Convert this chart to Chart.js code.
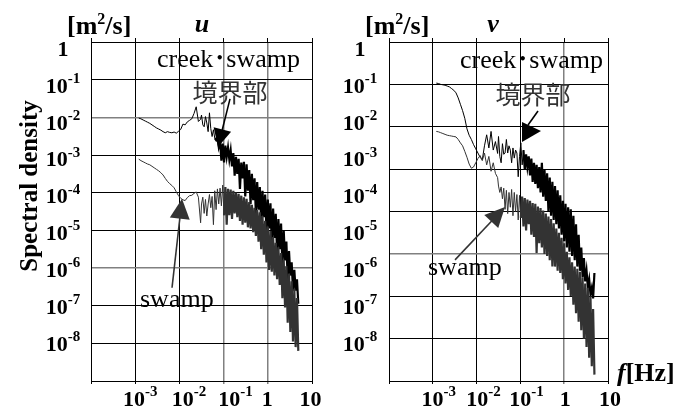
<!DOCTYPE html>
<html><head><meta charset="utf-8">
<script src="https://cdn.jsdelivr.net/npm/chart.js@4/dist/chart.umd.min.js"></script>
<style>
html,body{margin:0;padding:0;background:#fff;width:685px;height:414px;overflow:hidden}
#wrap{position:relative;width:685px;height:414px}
canvas{position:absolute;top:0}
#cu{left:0}
#cv{left:340px}
</style></head><body>
<div id="wrap"><canvas id="cu" width="340" height="414"></canvas><canvas id="cv" width="345" height="414"></canvas></div>
<script>
// ---- data (log10 f [Hz], log10 spectral density [m2/s]) ----
const logFreq = [-2.92,-2.87,-2.82,-2.77,-2.72,-2.67,-2.62,-2.57,-2.52,-2.47,-2.42,-2.37,-2.32,-2.27,-2.22,-2.17,-2.12,-2.07,-2.02,-1.97,-1.92,-1.87,-1.82,-1.77,-1.72,-1.67,-1.62,-1.57,-1.52,
 -1.50,-1.47,-1.44,-1.41,-1.38,-1.35,-1.32,-1.29,-1.26,-1.23,-1.20,
 -1.17,-1.14,-1.11,-1.08,-1.05,-1.02,-0.99,-0.96,-0.93,-0.90,-0.87,-0.84,-0.81,-0.78,-0.75,-0.72,-0.69,-0.66,-0.63,-0.60,-0.57,-0.54,-0.51,-0.48,-0.45,-0.42,-0.39,-0.36,-0.33,-0.30,-0.27,-0.24,-0.21,-0.18,-0.15,-0.12,-0.09,-0.06,-0.03,
 0.00,0.03,0.06,0.09,0.12,0.15,0.18,0.21,0.24,0.27,0.30,0.33,0.36,0.39,0.42,0.45,0.48,0.51,0.54,0.57,0.60,0.63,0.66,0.69];

const uCreek = [-2.02,-2.04,-2.07,-2.10,-2.13,-2.16,-2.20,-2.24,-2.28,-2.31,-2.34,-2.38,-2.41,-2.38,-2.40,-2.41,-2.39,-2.42,-2.37,-2.32,-2.18,-2.20,-2.12,-2.08,-2.04,-1.90,-1.72,-2.11,-2.05,
 -1.94,-2.20,-2.25,-1.98,-2.15,-2.38,-1.88,-2.30,-2.51,-2.33,-2.55,
 -2.60,-2.52,-2.78,-2.62,-3.15,-2.70,-3.20,-2.75,-3.05,-2.80,-3.12,-2.88,-3.30,-2.95,-3.55,-3.05,-3.50,-3.10,-3.90,-3.20,-3.62,-3.18,-4.10,-3.25,-3.95,-3.40,-4.30,-3.50,-4.20,-3.62,-4.55,-3.72,-4.45,-3.85,-4.80,-3.95,-4.65,-4.05,-5.00,
 -4.18,-4.95,-4.28,-5.30,-4.42,-5.20,-4.56,-5.60,-4.70,-5.50,-4.82,-5.90,-5.00,-5.80,-5.30,-6.30,-5.55,-6.20,-5.85,-6.60,-6.05,-6.60,-6.30,-6.95];

const uSwamp = [-3.11,-3.15,-3.18,-3.21,-3.24,-3.26,-3.30,-3.34,-3.38,-3.42,-3.47,-3.53,-3.62,-3.70,-3.76,-3.81,-3.87,-3.98,-4.08,-4.15,-4.19,-4.21,-4.13,-4.08,-4.07,-4.02,-3.98,-4.12,-4.80,
 -4.30,-4.12,-4.55,-4.18,-4.62,-4.30,-4.05,-4.40,-4.10,-4.85,-3.95,
 -4.45,-3.90,-4.30,-3.88,-4.35,-3.80,-4.60,-3.85,-4.85,-3.90,-4.60,-3.92,-4.70,-3.95,-4.55,-4.00,-4.65,-4.03,-4.75,-4.08,-4.85,-4.12,-4.80,-4.16,-4.92,-4.25,-4.95,-4.32,-5.05,-4.40,-5.15,-4.46,-5.30,-4.52,-5.50,-4.62,-5.65,-4.75,-5.85,
 -4.90,-6.05,-5.02,-6.10,-5.18,-6.20,-5.33,-6.30,-5.45,-6.45,-5.60,-6.80,-5.78,-7.05,-5.95,-7.45,-6.15,-7.70,-6.35,-7.95,-6.55,-8.10,-6.80,-8.20];

const vCreek = [-0.97,-0.98,-1.00,-1.01,-1.02,-1.04,-1.06,-1.10,-1.14,-1.20,-1.32,-1.47,-1.62,-1.80,-2.05,-2.20,-2.30,-2.42,-2.52,-2.62,-2.72,-2.78,-2.45,-2.19,-2.50,-2.11,-2.55,-2.35,-2.63,
 -2.23,-2.70,-2.85,-2.40,-2.65,-2.62,-2.30,-2.62,-2.45,-2.55,-2.85,
 -2.50,-2.74,-2.55,-2.62,-3.18,-2.70,-2.38,-2.90,-2.55,-3.02,-2.65,-2.95,-2.70,-3.15,-2.75,-3.30,-2.85,-3.35,-2.90,-3.45,-2.95,-3.55,-2.85,-3.65,-3.00,-3.75,-3.10,-4.00,-3.20,-4.10,-3.30,-4.20,-3.40,-4.30,-3.50,-4.40,-3.62,-4.55,-3.75,
 -4.70,-3.82,-4.85,-3.90,-4.95,-3.95,-5.05,-4.10,-5.15,-4.30,-5.30,-4.55,-5.40,-4.85,-5.55,-5.10,-5.65,-5.40,-5.78,-5.60,-5.95,-5.80,-6.05,-5.45];

const vSwamp = [-2.11,-2.12,-2.14,-2.16,-2.18,-2.20,-2.21,-2.22,-2.23,-2.24,-2.30,-2.38,-2.45,-2.58,-2.72,-2.88,-2.98,-2.95,-2.85,-2.75,-2.68,-2.80,-2.62,-2.90,-2.70,-3.05,-2.85,-3.10,-3.20,
 -3.40,-3.55,-3.42,-3.70,-3.45,-3.95,-3.50,-4.05,-3.55,-3.90,-3.48,
 -4.10,-3.55,-4.00,-3.60,-4.20,-3.62,-4.15,-3.65,-4.35,-3.68,-4.45,-3.72,-4.30,-3.75,-4.55,-3.80,-4.60,-3.82,-4.98,-3.88,-4.75,-3.92,-4.85,-3.98,-5.00,-4.05,-5.05,-4.12,-5.15,-4.18,-5.30,-4.28,-5.30,-4.40,-5.40,-4.50,-5.45,-4.62,-5.60,
 -4.75,-5.70,-4.95,-5.85,-5.08,-6.00,-5.20,-6.20,-5.30,-6.40,-5.35,-6.60,-5.42,-6.80,-5.55,-7.00,-5.70,-7.20,-5.80,-7.45,-6.00,-7.65,-6.30,-7.85];

// tick exponents
const xGridExp = [-4,-3,-2,-1,0,1];
const xLabelExp = [-3,-2,-1,0,1];
const yGridExpU = [0,-1,-2,-3,-4,-5,-6,-7,-8,-9];
const yGridExpV = [0,-1,-2,-3,-4,-5,-6,-7,-8];
const yLabelExp = [0,-1,-2,-3,-4,-5,-6,-7,-8];

const SERIF = '"Liberation Serif", "Times New Roman", serif';
const CJK = '"Noto Sans CJK JP", sans-serif';
Chart.defaults.font.family = SERIF;

const T22 = 'bold 22px ' + SERIF, T15 = 'bold 15px ' + SERIF;
function powRuns(e){
  if (e === 0) return [{t:'1', font:T22, baseline:'middle'}];
  if (e === 1) return [{t:'10', font:T22, baseline:'middle'}];
  return [{t:'10', font:T22, baseline:'middle'}, {t:String(e), font:T15, baseline:'middle', dy:8}];
}

function drawRuns(ctx, x, y, runs, align){
  let total = 0;
  runs.forEach(r => { ctx.font = r.font; r.w = ctx.measureText(r.t).width; total += r.w; });
  let cx = align === 'center' ? x - total/2 : x;
  runs.forEach(r => {
    ctx.font = r.font; ctx.fillStyle = r.color || '#000';
    ctx.textBaseline = r.baseline || 'alphabetic'; ctx.textAlign = 'left';
    ctx.fillText(r.t, cx, y - (r.dy || 0)); cx += r.w;
  });
}
function drawArrow(ctx, x1, y1, x2, y2, len, hw, color, lw){
  const dx = x2-x1, dy = y2-y1, d = Math.hypot(dx,dy), ux = dx/d, uy = dy/d;
  const bx = x2-ux*len, by = y2-uy*len;
  ctx.strokeStyle = color; ctx.lineWidth = lw;
  ctx.beginPath(); ctx.moveTo(x1,y1); ctx.lineTo(bx+ux*2,by+uy*2); ctx.stroke();
  ctx.fillStyle = color; ctx.beginPath(); ctx.moveTo(x2,y2);
  ctx.lineTo(bx-uy*hw, by+ux*hw); ctx.lineTo(bx+uy*hw, by-ux*hw); ctx.closePath(); ctx.fill();
}

const annotPlugin = {
  id: 'annot',
  afterDraw(chart, args, opts){
    const ctx = chart.ctx, sx = chart.scales.x, sy = chart.scales.y, sl = chart.scales.yLab;
    const P = (p) => [sx.getPixelForValue(p[0]), sy.getPixelForValue(p[1])];
    ctx.save();
    // tick labels (powers of ten)
    yLabelExp.forEach(e => drawRuns(ctx, opts.yLabCenter, sl.getPixelForValue(e), powRuns(e), 'center'));
    xLabelExp.forEach((e,i) => drawRuns(ctx, sx.getPixelForValue(e) + opts.xLabShiftPx[i], opts.xLabY, powRuns(e), 'center'));
    (opts.arrows || []).forEach(a => {
      if (a.tri) {
        const l1 = P(a.line[0]), l2 = P(a.line[1]);
        ctx.strokeStyle = a.color; ctx.lineWidth = 1.6;
        ctx.beginPath(); ctx.moveTo(l1[0],l1[1]); ctx.lineTo(l2[0],l2[1]); ctx.stroke();
        const t = a.tri.map(P);
        ctx.fillStyle = a.color; ctx.beginPath(); ctx.moveTo(t[0][0],t[0][1]);
        ctx.lineTo(t[1][0],t[1][1]); ctx.lineTo(t[2][0],t[2][1]); ctx.closePath(); ctx.fill();
      } else {
        const f = P(a.from), t = P(a.to);
        drawArrow(ctx, f[0], f[1], t[0], t[1], a.len, a.hw, a.color, 1.6);
      }
    });
    (opts.texts || []).forEach(tx => {
      ctx.save();
      if (tx.rotate) { ctx.translate(tx.x, tx.y); ctx.rotate(tx.rotate); drawRuns(ctx, 0, 0, tx.runs, tx.align); }
      else drawRuns(ctx, tx.x, tx.y, tx.runs, tx.align);
      ctx.restore();
    });
    ctx.restore();
  }
};

function panel(id, creek, swamp, cfg){
  const pts = arr => logFreq.map((f,i) => ({x:f, y:arr[i]}));
  const segW = from => ({ borderWidth: c => (c.p0.parsed.x >= from ? 2.2 : 1) });
  return new Chart(document.getElementById(id), {
    type: 'line',
    data: { datasets: [
      { label:'swamp', data: pts(swamp), borderColor:'#333333', borderWidth:1, pointRadius:0, tension:0, order:0,
        segment: segW(cfg.denseSwamp) },
      { label:'creek\u30FBswamp \u5883\u754C\u90E8', data: pts(creek), borderColor:'#000000', borderWidth:1, pointRadius:0, tension:0, order:1,
        segment: segW(cfg.denseCreek) }
    ]},
    options: {
      responsive:false, animation:false, devicePixelRatio:1,
      layout:{ padding:{ top:38, right:cfg.padRight, left:0, bottom:0 } },
      plugins:{ legend:{display:false}, tooltip:{enabled:false}, title:{display:false},
        annot:{ texts: cfg.texts, arrows: cfg.arrows, yLabCenter: cfg.yLabCenter, xLabY: 400, xLabShiftPx: cfg.xLabShiftPx } },
      scales:{
        x:{ type:'linear', position:'bottom', min:-4, max:1, weight:0,
          afterBuildTicks: s => { s.ticks = xGridExp.map(v => ({value:v})); },
          afterFit: s => { s.height = 33; },
          grid:{ color: c => cfg.greyX.includes(c.tick && c.tick.value) ? '#808080' : '#000',
                 lineWidth: c => cfg.greyX.includes(c.tick && c.tick.value) ? 1.5 : 1,
                 drawTicks:true, tickLength:3 },
          border:{ display:true, color:'#000', width:1 },
          ticks:{ display:false } },
        xTop:{ type:'linear', position:'top', min:-4, max:1,
          afterBuildTicks: s => { s.ticks = xGridExp.map(v => ({value:v})); },
          afterFit: s => { s.height = 4; },
          grid:{ drawOnChartArea:false, drawTicks:true, tickLength:4, color:'#000' },
          border:{ display:false }, ticks:{ display:false } },
        y:{ type:'linear', position:'left', min:cfg.yMin, max:0, weight:0,
          afterBuildTicks: s => { s.ticks = cfg.yGrid.map(v => ({value:v})); },
          afterFit: s => { s.width = 0; },
          grid:{ color: c => cfg.greyY.includes(c.tick && c.tick.value) ? '#808080' : '#000',
                 lineWidth: c => cfg.greyY.includes(c.tick && c.tick.value) ? 1.5 : 1,
                 drawTicks:false },
          border:{ display:true, color:'#000', width:1 },
          ticks:{ display:false } },
        yLab:{ type:'linear', position:'left', min:-8.97, max:0.22, weight:1,
          afterBuildTicks: s => { s.ticks = yLabelExp.map(v => ({value:v})); },
          afterFit: s => { s.width = cfg.yLabW; },
          grid:{ display:false }, border:{ display:false },
          ticks:{ display:false } }
      }
    },
    plugins:[annotPlugin]
  });
}

const F26 = '26px ' + SERIF;
const B26 = 'bold 26px ' + SERIF, B16 = 'bold 16px ' + SERIF;
const BI26 = 'italic bold 26px ' + SERIF;
const CJK25 = '25px ' + CJK;
const MIX26 = '26px ' + SERIF + ', ' + CJK;

panel('cu', uCreek, uSwamp, {
  padRight: 28, yMin: -9, yGrid: yGridExpU, greyY: [-2,-6], greyX: [-1,0],
  yLabW: 91, yLabCenter: 63, denseCreek: -1.2, denseSwamp: -1.0,
  xLabShiftPx: [5, 9.5, 12, -0.5, -1.5],
  texts: [
    { x:67, y:34, runs:[{t:'[m', font:B26},{t:'2', font:B16, dy:10},{t:'/s]', font:B26}] },
    { x:202, y:32, align:'center', runs:[{t:'u', font:BI26}] },
    { x:37, y:186, align:'center', rotate:-Math.PI/2, runs:[{t:'Spectral density', font:'bold 25px ' + SERIF}] },
    { x:157, y:67, runs:[{t:'creek\uFF65swamp', font:MIX26}] },
    { x:230, y:92, align:'center', runs:[{t:'\u5883\u754C\u90E8', font:CJK25, color:'#333', baseline:'middle'}] },
    { x:140, y:307, runs:[{t:'swamp', font:F26}] }
  ],
  arrows: [
    { from:[-0.855,-1.51], to:[-1.127,-2.785], len:18, hw:9, color:'#000' },
    { from:[-2.167,-6.525], to:[-1.941,-4.164], len:20, hw:10, color:'#333' }
  ]
});

panel('cv', vCreek, vSwamp, {
  padRight: 77, yMin: -8, yGrid: yGridExpV, greyY: [-5], greyX: [0],
  yLabW: 49, yLabCenter: 20, denseCreek: -0.95, denseSwamp: -1.0,
  xLabShiftPx: [6, 7, 6, 1, 2],
  texts: [
    { x:25, y:34, runs:[{t:'[m', font:B26},{t:'2', font:B16, dy:10},{t:'/s]', font:B26}] },
    { x:153, y:32, align:'center', runs:[{t:'v', font:BI26}] },
    { x:120, y:68, runs:[{t:'creek\uFF65swamp', font:MIX26}] },
    { x:193, y:94, align:'center', runs:[{t:'\u5883\u754C\u90E8', font:CJK25, color:'#333', baseline:'middle'}] },
    { x:88, y:275, runs:[{t:'swamp', font:F26}] },
    { x:277, y:381, runs:[{t:'f', font:BI26},{t:'[Hz]', font:B26}] }
  ],
  arrows: [
    { line:[[-0.598,-1.627],[-0.826,-1.958]], tri:[[-0.963,-1.887],[-0.530,-2.099],[-0.963,-2.358]], color:'#000' },
    { from:[-2.493,-5.142], to:[-1.352,-3.892], len:20, hw:9.6, color:'#333' }
  ]
});
</script>
</body></html>
